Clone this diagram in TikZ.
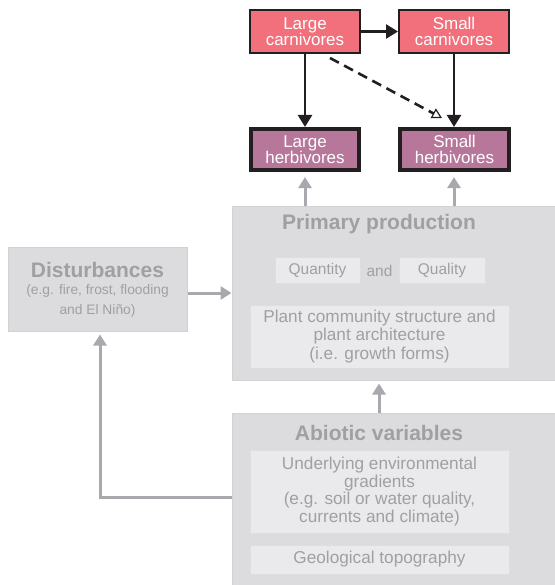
\documentclass[tikz,border=0pt]{standalone}
\usepackage{fontspec}
\setmainfont{Liberation Sans}
\usetikzlibrary{arrows.meta,calc}
\definecolor{carn}{HTML}{F2707B}
\definecolor{herb}{HTML}{B7779A}
\definecolor{panel}{HTML}{DCDCDE}
\definecolor{panelline}{HTML}{D2D2D4}
\definecolor{inner}{HTML}{EAEAEC}
\definecolor{innerline}{HTML}{DEDEE0}
\definecolor{gtext}{HTML}{A0A0A4}
\definecolor{garrow}{HTML}{A9A9AD}
\definecolor{dark}{HTML}{231F20}
\tikzset{
  animal/.style={draw=dark, line width=2pt, text=white, align=center, inner sep=0pt,
    minimum width=110pt, minimum height=43pt, font=\fontsize{17}{16.5}\selectfont},
  carnbox/.style={animal, fill=carn},
  herbbox/.style={animal, fill=herb, line width=3.6pt, minimum width=108.5pt, minimum height=41.5pt},
  panelbox/.style={draw=panelline, line width=1pt, fill=panel, inner sep=0pt},
  innerbox/.style={draw=innerline, line width=0.8pt, fill=inner, inner sep=0pt, text=gtext, align=center,
    font=\fontsize{17.2}{18.5}\selectfont},
  ptitle/.style={text=gtext, font=\fontsize{21}{22}\selectfont\bfseries, inner sep=0pt},
  blackarrow/.style={draw=dark, line width=2.6pt, -{Triangle[length=12pt,width=14pt]}},
  grayarrow/.style={draw=garrow, line width=3pt, -{Triangle[length=11pt,width=13pt]}},
}
\begin{document}
\begin{tikzpicture}[x=1pt,y=-1pt]
\useasboundingbox (0,0) rectangle (554,585);
% panels
\node[panelbox, minimum width=324pt, minimum height=174pt] (pp) at (394,293) {};
\node[panelbox, minimum width=324pt, minimum height=177pt] (ab) at (394,501.5) {};
\node[panelbox, minimum width=179pt, minimum height=84pt, align=center] (dist) at (97.5,289) {};
\node[ptitle] (disttitle) at (97.5,270) {Disturbances};
\node[text=gtext, align=center, font=\fontsize{13.8}{19.5}\selectfont, inner sep=0pt] (disttext) at (97.5,301) {(e.g. fire, frost, flooding\\and El Niño)};
\node[ptitle] (pptitle) at (379,224) {Primary production};
\node[ptitle] (abtitle) at (379,433) {Abiotic variables};
\node[innerbox, minimum width=85pt, minimum height=26pt, font=\fontsize{15.5}{17}\selectfont] (qty) at (317.5,270) {Quantity};
\node[text=gtext, font=\fontsize{15.5}{17}\selectfont, inner sep=0pt] (and) at (379.5,271) {and};
\node[innerbox, minimum width=86pt, minimum height=26pt, font=\fontsize{15.5}{17}\selectfont] (qual) at (442,270) {Quality};
\node[innerbox, minimum width=259pt, minimum height=63pt] (plant) at (379.5,336.5) {Plant community structure and\\plant architecture\\(i.e. growth forms)};
\node[innerbox, minimum width=259pt, minimum height=83pt, font=\fontsize{17.2}{17.8}\selectfont] (under) at (379.5,491.5) {Underlying environmental\\gradients\\(e.g. soil or water quality,\\currents and climate)};
\node[innerbox, minimum width=259pt, minimum height=29pt] (geo) at (379.5,559.5) {Geological topography};
% animals
\node[carnbox] (lc) at (305,31.5) {Large\\carnivores};
\node[carnbox] (sc) at (454,31.5) {Small\\carnivores};
\node[herbbox] (lh) at (305,149.5) {Large\\herbivores};
\node[herbbox] (sh) at (454.5,149.5) {Small\\herbivores};
% black arrows
\draw[blackarrow] (lc.east) -- (sc.west);
\draw[blackarrow] (lc.south) -- (lh.north);
\draw[blackarrow] (sc.south) -- (sc.south |- sh.north);
\coordinate (dstart) at (330,58);
\coordinate (dend) at (442,118);
\draw[draw=dark, line width=2.6pt, dash pattern=on 10pt off 6pt, -{Triangle[open,length=10pt,width=11pt,line width=1.2pt]}] (dstart) -- (dend);
% gray arrows
\draw[grayarrow, shorten >=5pt] (lh.south |- pp.north) -- (lh.south);
\draw[grayarrow, shorten >=5pt] (sc.south |- pp.north) -- (sc.south |- sh.south);
\draw[grayarrow] (dist.east |- 0,293) -- (pp.west |- 0,293);
\draw[grayarrow, shorten >=3pt] (379,413) -- (pp.south -| 379,0);
\coordinate (bend) at (100,497);
\draw[grayarrow, shorten >=3pt] (ab.west |- bend) -- (bend) -- (dist.south -| bend);
\end{tikzpicture}
\end{document}
